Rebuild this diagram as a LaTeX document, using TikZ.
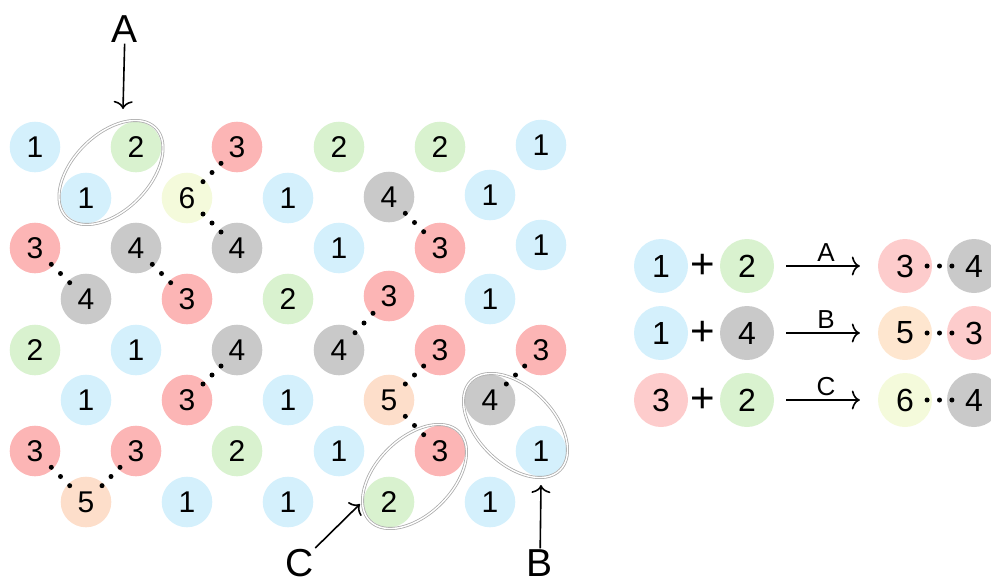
\documentclass[tikz,border=0pt]{standalone}
\usepackage{fontspec}
\setmainfont{Liberation Sans}
\usetikzlibrary{arrows.meta, positioning, calc}
\definecolor{bleu}{HTML}{D4F0FC}
\definecolor{vert}{HTML}{D9F2CF}
\definecolor{rouge}{HTML}{FCB5B5}
\definecolor{rougeclair}{HTML}{FDCCCC}
\definecolor{gris}{HTML}{C9C9C9}
\definecolor{peche}{HTML}{FDDECA}
\definecolor{pecheclair}{HTML}{FEE6CF}
\definecolor{citron}{HTML}{F4FADB}
\tikzset{
  atome/.style={
    circle,
    minimum size=50.6pt,
    inner sep=0pt,
    font=\fontsize{30}{30}\selectfont,
  },
  at1/.style={atome, fill=bleu},
  at2/.style={atome, fill=vert},
  at3/.style={atome, fill=rouge},
  at4/.style={atome, fill=gris},
  at5/.style={atome, fill=peche},
  at6/.style={atome, fill=citron},
  grand/.style={
    minimum size=54pt,
    font=\fontsize{32}{32}\selectfont
  },
  plus/.style={
    font=\fontsize{42}{42}\selectfont
  },
  lettre/.style={
    inner sep=1pt,
    font=\fontsize{39}{39}\selectfont
  },
  petite/.style={
    font=\fontsize{26}{26}\selectfont
  },
  anneau/.style={
    draw=gray!65,
    double=white,
    double distance=1.4pt,
    line width=0.8pt
  },
  fleche/.style={
    -{To[length=8pt,width=19pt]},
    line width=1.6pt
  }
}
% liaison en pointilles
\newcommand{\lien}[2]{%
  \fill ($(#1)!0.32!(#2)$) circle[radius=2.5pt];
  \fill ($(#1)!0.5!(#2)$) circle[radius=2.5pt];
  \fill ($(#1)!0.68!(#2)$) circle[radius=2.5pt];
}
\begin{document}
\begin{tikzpicture}[x=1pt, y=-1pt]
  \useasboundingbox (0,0) rectangle (991,581);

  % Reseau
  \node[at1] (n0a) at (35,147) {1};
  \node[at2] (n0c) at (136,147) {2};
  \node[at3] (n0e) at (237,147) {3};
  \node[at2] (n0g) at (339,147) {2};
  \node[at2] (n0i) at (440,147) {2};
  \node[at1] (n0k) at (541,145) {1};

  \node[at1] (n1b) at (86,198) {1};
  \node[at6] (n1d) at (187,198) {6};
  \node[at1] (n1f) at (288,198) {1};
  \node[at4] (n1h) at (389,197) {4};
  \node[at1] (n1j) at (490,195) {1};

  \node[at3] (n2a) at (35,248) {3};
  \node[at4] (n2c) at (136,248) {4};
  \node[at4] (n2e) at (237,248) {4};
  \node[at1] (n2g) at (339,248) {1};
  \node[at3] (n2i) at (440,248) {3};
  \node[at1] (n2k) at (541,245) {1};

  \node[at4] (n3b) at (86,299) {4};
  \node[at3] (n3d) at (187,299) {3};
  \node[at2] (n3f) at (288,299) {2};
  \node[at3] (n3h) at (389,296) {3};
  \node[at1] (n3j) at (490,299) {1};

  \node[at2] (n4a) at (35,350) {2};
  \node[at1] (n4c) at (136,350) {1};
  \node[at4] (n4e) at (237,350) {4};
  \node[at4] (n4g) at (339,350) {4};
  \node[at3] (n4i) at (440,350) {3};
  \node[at3] (n4k) at (541,350) {3};

  \node[at1] (n5b) at (86,400) {1};
  \node[at3] (n5d) at (187,400) {3};
  \node[at1] (n5f) at (288,400) {1};
  \node[at5] (n5h) at (389,400) {5};
  \node[at4] (n5j) at (490,400) {4};

  \node[at3] (n6a) at (35,451) {3};
  \node[at3] (n6c) at (136,451) {3};
  \node[at2] (n6e) at (237,451) {2};
  \node[at1] (n6g) at (339,451) {1};
  \node[at3] (n6i) at (440,451) {3};
  \node[at1] (n6k) at (541,451) {1};

  \node[at5] (n7b) at (86,502) {5};
  \node[at1] (n7d) at (187,502) {1};
  \node[at1] (n7f) at (288,502) {1};
  \node[at2] (n7h) at (389,502) {2};
  \node[at1] (n7j) at (490,502) {1};

  % Liaisons
  \lien{n1d}{n0e}
  \lien{n1d}{n2e}
  \lien{n2a}{n3b}
  \lien{n2c}{n3d}
  \lien{n1h}{n2i}
  \lien{n3h}{n4g}
  \lien{n4e}{n5d}
  \lien{n4i}{n5h}
  \lien{n5h}{n6i}
  \lien{n4k}{n5j}
  \lien{n6a}{n7b}
  \lien{n6c}{n7b}

  % Paires entourees
  \coordinate (ea) at ($(n1b)!0.5!(n0c)$);
  \coordinate (eb) at ($(n5j)!0.5!(n6k)$);
  \coordinate (ec) at ($(n7h)!0.5!(n6i)$);
  \draw[anneau, rotate around={45:(ea)}] (ea) ellipse[x radius=63pt, y radius=38pt];
  \draw[anneau, rotate around={-45:(eb)}] (eb) ellipse[x radius=63pt, y radius=38pt];
  \draw[anneau, rotate around={45:(ec)}] (ec) ellipse[x radius=63pt, y radius=38pt];

  % Etiquettes A, B, C
  \node[lettre] (la) at (125,29) {A};
  \node[lettre] (lb) at (540,563) {B};
  \node[lettre] (lc) at (300,563) {C};
  \coordinate (pa) at (123,109);
  \coordinate (pb) at (541,485);
  \coordinate (pc) at (360,504);
  \draw[fleche] (la) -- (pa);
  \draw[fleche] (lb) -- (pb);
  \draw[fleche] (lc) -- (pc);

  % Reactions
  \node[at1, grand] (g1a) at (661,266) {1};
  \node[plus, right of=g1a, node distance=42pt] (g1p) {+};
  \node[at2, grand, right of=g1a, node distance=86pt] (g1b) {2};
  \node[at3, grand, fill=rougeclair, right of=g1b, node distance=158pt] (g1c) {3};
  \node[at4, grand, right of=g1c, node distance=69pt] (g1d) {4};

  \node[at1, grand] (g2a) at (661,333) {1};
  \node[plus, right of=g2a, node distance=42pt] (g2p) {+};
  \node[at4, grand, right of=g2a, node distance=86pt] (g2b) {4};
  \node[at5, grand, fill=pecheclair, right of=g2b, node distance=158pt] (g2c) {5};
  \node[at3, grand, fill=rougeclair, right of=g2c, node distance=69pt] (g2d) {3};

  \node[at3, grand, fill=rougeclair] (g3a) at (661,400) {3};
  \node[plus, right of=g3a, node distance=42pt] (g3p) {+};
  \node[at2, grand, right of=g3a, node distance=86pt] (g3b) {2};
  \node[at6, grand, right of=g3b, node distance=158pt] (g3c) {6};
  \node[at4, grand, right of=g3c, node distance=69pt] (g3d) {4};

  \draw[fleche, shorten <=12pt, shorten >=18pt] (g1b) -- node[above, petite] {A} (g1c);
  \draw[fleche, shorten <=12pt, shorten >=18pt] (g2b) -- node[above, petite] {B} (g2c);
  \draw[fleche, shorten <=12pt, shorten >=18pt] (g3b) -- node[above, petite] {C} (g3c);

  \lien{g1c}{g1d}
  \lien{g2c}{g2d}
  \lien{g3c}{g3d}
\end{tikzpicture}
\end{document}
